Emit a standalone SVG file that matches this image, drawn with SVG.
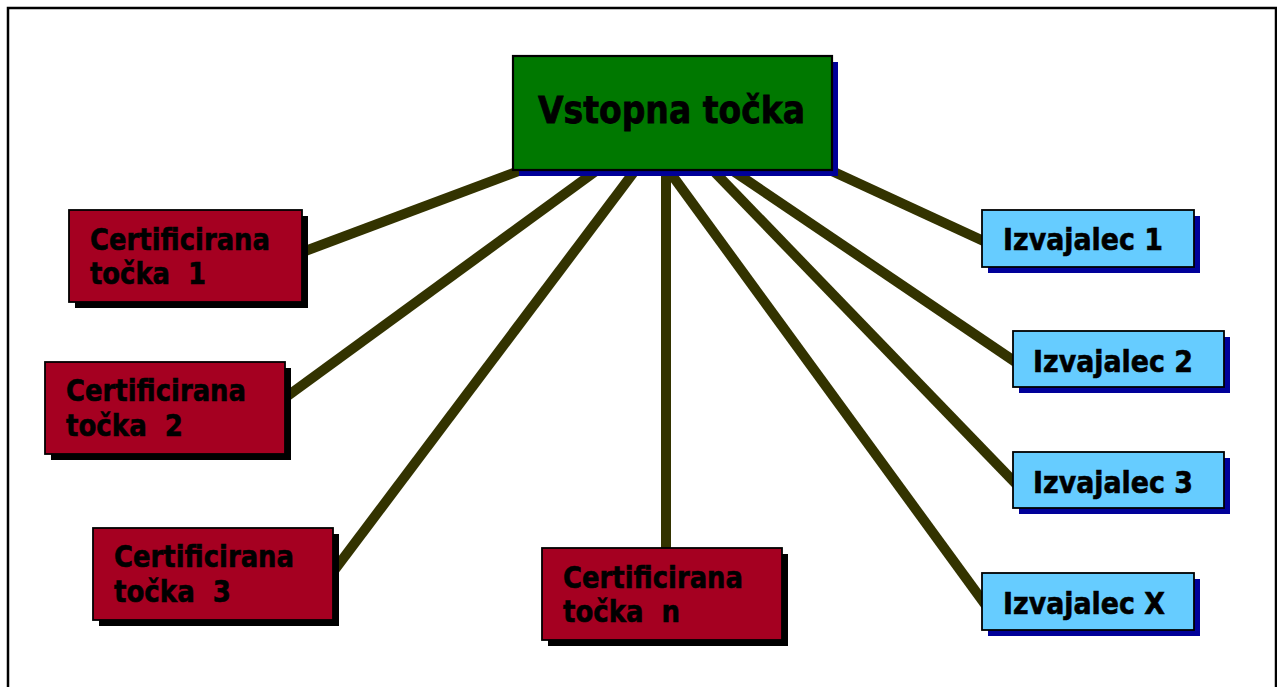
<svg xmlns="http://www.w3.org/2000/svg" width="1277" height="687" viewBox="0 0 1277 687">
  <style>
    .frame { fill: none; stroke: #000; stroke-width: 2.5; }
    .link { stroke: #333300; stroke-width: 10; stroke-linecap: butt; }
    .box { stroke: #000; stroke-width: 1.8; }
    .entry { fill: #007800; stroke: #000; stroke-width: 2.2; }
    .cert { fill: #A50021; }
    .exec { fill: #66CCFF; }
    .shadow-dark { fill: #000; }
    .shadow-blue { fill: #000099; }
    text { font-family: "DejaVu Sans", Verdana, sans-serif; font-weight: bold; fill: #000; stroke: #000; stroke-width: 0.6; }
    .lbl { font-size: 30px; }
    .title { font-size: 38px; stroke-width: 0.8; }
  </style>

  <rect class="frame" x="8" y="8" width="1268" height="700"/>

  <!-- connectors from the entry point to each node -->
  <g id="connectors">
    <line class="link" x1="548" y1="160" x2="300" y2="253"/>
    <line class="link" x1="611" y1="160" x2="282" y2="400"/>
    <line class="link" x1="643" y1="160" x2="330" y2="576"/>
    <line class="link" x1="666" y1="160" x2="666" y2="552"/>
    <line class="link" x1="661" y1="160" x2="990" y2="611"/>
    <line class="link" x1="703" y1="160" x2="1020" y2="488"/>
    <line class="link" x1="717" y1="160" x2="1020" y2="365"/>
    <line class="link" x1="808" y1="160" x2="990" y2="244"/>
  </g>

  <g id="vstopna-tocka">
    <rect class="shadow-blue" x="519" y="62" width="319" height="114"/>
    <rect class="entry" x="513" y="56" width="319" height="114"/>
    <text class="title" x="538" y="123" textLength="267" lengthAdjust="spacingAndGlyphs">Vstopna točka</text>
  </g>

  <g id="cert-1">
    <rect class="shadow-dark" x="75" y="216" width="233" height="92"/>
    <rect class="box cert" x="69" y="210" width="233" height="92"/>
    <text class="lbl" x="90" y="250" textLength="180" lengthAdjust="spacingAndGlyphs">Certificirana</text>
    <text class="lbl" x="90" y="284" textLength="116" lengthAdjust="spacingAndGlyphs" xml:space="preserve">točka  1</text>
  </g>

  <g id="cert-2">
    <rect class="shadow-dark" x="51" y="368" width="240" height="92"/>
    <rect class="box cert" x="45" y="362" width="240" height="92"/>
    <text class="lbl" x="66" y="401" textLength="180" lengthAdjust="spacingAndGlyphs">Certificirana</text>
    <text class="lbl" x="66" y="436" textLength="117" lengthAdjust="spacingAndGlyphs" xml:space="preserve">točka  2</text>
  </g>

  <g id="cert-3">
    <rect class="shadow-dark" x="99" y="534" width="240" height="92"/>
    <rect class="box cert" x="93" y="528" width="240" height="92"/>
    <text class="lbl" x="114" y="567" textLength="180" lengthAdjust="spacingAndGlyphs">Certificirana</text>
    <text class="lbl" x="114" y="602" textLength="117" lengthAdjust="spacingAndGlyphs" xml:space="preserve">točka  3</text>
  </g>

  <g id="cert-n">
    <rect class="shadow-dark" x="548" y="554" width="240" height="92"/>
    <rect class="box cert" x="542" y="548" width="240" height="92"/>
    <text class="lbl" x="563" y="588" textLength="180" lengthAdjust="spacingAndGlyphs">Certificirana</text>
    <text class="lbl" x="563" y="622" textLength="117" lengthAdjust="spacingAndGlyphs" xml:space="preserve">točka  n</text>
  </g>

  <g id="izvajalec-1">
    <rect class="shadow-blue" x="988" y="216" width="212" height="57"/>
    <rect class="box exec" x="982" y="210" width="212" height="57"/>
    <text class="lbl" x="1003" y="250" textLength="160" lengthAdjust="spacingAndGlyphs">Izvajalec 1</text>
  </g>

  <g id="izvajalec-2">
    <rect class="shadow-blue" x="1019" y="337" width="211" height="56"/>
    <rect class="box exec" x="1013" y="331" width="211" height="56"/>
    <text class="lbl" x="1033" y="372" textLength="160" lengthAdjust="spacingAndGlyphs">Izvajalec 2</text>
  </g>

  <g id="izvajalec-3">
    <rect class="shadow-blue" x="1019" y="458" width="211" height="56"/>
    <rect class="box exec" x="1013" y="452" width="211" height="56"/>
    <text class="lbl" x="1033" y="493" textLength="160" lengthAdjust="spacingAndGlyphs">Izvajalec 3</text>
  </g>

  <g id="izvajalec-x">
    <rect class="shadow-blue" x="988" y="579" width="212" height="57"/>
    <rect class="box exec" x="982" y="573" width="212" height="57"/>
    <text class="lbl" x="1003" y="614" textLength="162" lengthAdjust="spacingAndGlyphs">Izvajalec X</text>
  </g>
</svg>
